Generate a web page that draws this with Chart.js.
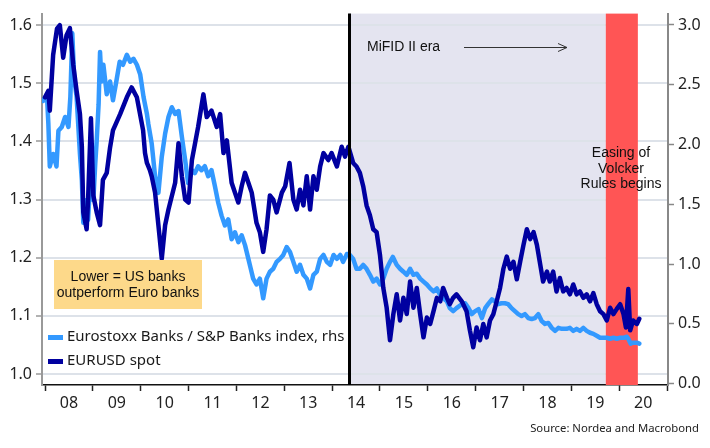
<!DOCTYPE html>
<html>
<head>
<meta charset="utf-8">
<script src="https://cdn.jsdelivr.net/npm/chart.js@4.4.1/dist/chart.umd.min.js"></script>
<style>
  html, body { margin: 0; padding: 0; background: #fff; }
  #wrap { width: 710px; height: 448px; }
</style>
</head>
<body>
<div id="wrap"><canvas id="chart" width="710" height="448"></canvas></div>
<script>
// EURUSD spot, lhs (x = decimal year)
const eurusdYears = [
  2008.00, 2008.07, 2008.10, 2008.17, 2008.25, 2008.31, 2008.38, 2008.45, 2008.52, 2008.59,
  2008.66, 2008.73, 2008.77, 2008.80, 2008.87, 2008.90, 2008.96, 2009.01, 2009.08, 2009.15,
  2009.21, 2009.29, 2009.36, 2009.42, 2009.57, 2009.71, 2009.81, 2009.92, 2010.05, 2010.09,
  2010.13, 2010.19, 2010.23, 2010.30, 2010.37, 2010.44, 2010.51, 2010.58, 2010.72, 2010.79,
  2010.86, 2010.93, 2011.00, 2011.07, 2011.20, 2011.31, 2011.38, 2011.48, 2011.59, 2011.66,
  2011.73, 2011.80, 2011.90, 2012.04, 2012.11, 2012.18, 2012.25, 2012.32, 2012.42, 2012.49,
  2012.56, 2012.63, 2012.70, 2012.77, 2012.84, 2012.95, 2013.02, 2013.11, 2013.19, 2013.26,
  2013.33, 2013.40, 2013.47, 2013.54, 2013.61, 2013.68, 2013.75, 2013.82, 2013.92, 2013.99,
  2014.10, 2014.20, 2014.27, 2014.34, 2014.44, 2014.51, 2014.58, 2014.65, 2014.72, 2014.79,
  2014.86, 2014.93, 2015.00, 2015.07, 2015.14, 2015.21, 2015.28, 2015.35, 2015.42, 2015.49,
  2015.56, 2015.63, 2015.70, 2015.77, 2015.84, 2015.91, 2015.98, 2016.05, 2016.12, 2016.19,
  2016.26, 2016.32, 2016.40, 2016.46, 2016.53, 2016.60, 2016.71, 2016.81, 2016.88, 2016.95,
  2017.02, 2017.09, 2017.16, 2017.23, 2017.30, 2017.37, 2017.44, 2017.51, 2017.58, 2017.65,
  2017.72, 2017.79, 2017.86, 2017.93, 2018.00, 2018.07, 2018.14, 2018.21, 2018.28, 2018.35,
  2018.41, 2018.49, 2018.55, 2018.62, 2018.69, 2018.76, 2018.83, 2018.90, 2018.97, 2019.04,
  2019.11, 2019.18, 2019.25, 2019.32, 2019.39, 2019.46, 2019.53, 2019.60, 2019.67, 2019.74,
  2019.81, 2019.88, 2019.95, 2020.02, 2020.09, 2020.14, 2020.19, 2020.23, 2020.29, 2020.37,
  2020.42
];
const eurusdSpot = [
  1.476, 1.487, 1.453, 1.549, 1.594, 1.600, 1.544, 1.583, 1.595, 1.532,
  1.487, 1.447, 1.391, 1.278, 1.249, 1.300, 1.440, 1.307, 1.278, 1.256,
  1.334, 1.346, 1.390, 1.419, 1.447, 1.476, 1.493, 1.476, 1.419, 1.380,
  1.363, 1.351, 1.340, 1.312, 1.256, 1.198, 1.256, 1.283, 1.329, 1.397,
  1.340, 1.300, 1.295, 1.368, 1.425, 1.481, 1.442, 1.453, 1.425, 1.447,
  1.380, 1.402, 1.329, 1.295, 1.323, 1.346, 1.329, 1.312, 1.260, 1.244,
  1.210, 1.249, 1.307, 1.300, 1.278, 1.312, 1.323, 1.363, 1.300, 1.283,
  1.317, 1.290, 1.340, 1.283, 1.340, 1.317, 1.357, 1.380, 1.368, 1.380,
  1.357, 1.391, 1.374, 1.391, 1.363, 1.357, 1.346, 1.323, 1.290, 1.273,
  1.249, 1.244, 1.205, 1.148, 1.114, 1.058, 1.103, 1.137, 1.092, 1.131,
  1.103, 1.159, 1.114, 1.148, 1.103, 1.063, 1.097, 1.086, 1.108, 1.131,
  1.125, 1.148, 1.131, 1.120, 1.131, 1.137, 1.125, 1.108, 1.075, 1.046,
  1.080, 1.058, 1.086, 1.063, 1.092, 1.103, 1.125, 1.148, 1.181, 1.202,
  1.181, 1.193, 1.163, 1.193, 1.222, 1.249, 1.232, 1.244, 1.222, 1.188,
  1.159, 1.176, 1.159, 1.176, 1.142, 1.165, 1.142, 1.148, 1.137, 1.154,
  1.137, 1.142, 1.131, 1.137, 1.125, 1.139, 1.120, 1.108, 1.103, 1.092,
  1.114, 1.103, 1.112, 1.120, 1.103, 1.080, 1.146, 1.075, 1.092, 1.086,
  1.095
];

// Eurostoxx Banks / S&P Banks index, rhs
const ratioYears = [
  2007.96, 2008.04, 2008.07, 2008.10, 2008.17, 2008.24, 2008.28, 2008.35, 2008.42, 2008.49,
  2008.53, 2008.57, 2008.61, 2008.66, 2008.73, 2008.77, 2008.80, 2008.87, 2008.90, 2008.98,
  2009.01, 2009.05, 2009.08, 2009.12, 2009.15, 2009.18, 2009.22, 2009.29, 2009.36, 2009.42,
  2009.49, 2009.56, 2009.63, 2009.71, 2009.78, 2009.85, 2009.92, 2009.99, 2010.06, 2010.13,
  2010.16, 2010.23, 2010.30, 2010.37, 2010.44, 2010.51, 2010.58, 2010.65, 2010.72, 2010.79,
  2010.86, 2010.93, 2010.99, 2011.07, 2011.13, 2011.20, 2011.27, 2011.34, 2011.41, 2011.48,
  2011.55, 2011.62, 2011.69, 2011.76, 2011.83, 2011.90, 2011.97, 2012.04, 2012.11, 2012.18,
  2012.25, 2012.30, 2012.35, 2012.42, 2012.49, 2012.56, 2012.63, 2012.70, 2012.77, 2012.84,
  2012.91, 2012.98, 2013.05, 2013.12, 2013.19, 2013.26, 2013.33, 2013.40, 2013.47, 2013.54,
  2013.61, 2013.68, 2013.75, 2013.82, 2013.89, 2013.96, 2014.03, 2014.10, 2014.17, 2014.23,
  2014.31, 2014.37, 2014.44, 2014.51, 2014.58, 2014.65, 2014.72, 2014.79, 2014.86, 2014.93,
  2015.00, 2015.07, 2015.14, 2015.21, 2015.27, 2015.35, 2015.42, 2015.49, 2015.56, 2015.63,
  2015.70, 2015.77, 2015.84, 2015.91, 2015.98, 2016.05, 2016.12, 2016.19, 2016.25, 2016.32,
  2016.40, 2016.46, 2016.53, 2016.60, 2016.71, 2016.78, 2016.85, 2016.92, 2016.99, 2017.06,
  2017.13, 2017.20, 2017.26, 2017.34, 2017.40, 2017.47, 2017.54, 2017.61, 2017.68, 2017.75,
  2017.82, 2017.89, 2017.96, 2018.03, 2018.10, 2018.17, 2018.24, 2018.31, 2018.38, 2018.45,
  2018.52, 2018.59, 2018.66, 2018.73, 2018.80, 2018.90, 2018.97, 2019.04, 2019.11, 2019.18,
  2019.25, 2019.32, 2019.39, 2019.46, 2019.53, 2019.60, 2019.67, 2019.74, 2019.81, 2019.88,
  2019.95, 2020.02, 2020.09, 2020.16, 2020.19, 2020.24, 2020.29, 2020.37, 2020.42
];
const ratioValues = [
  2.364, 2.420, 2.172, 1.816, 1.921, 1.816, 2.115, 2.147, 2.230, 2.147,
  2.400, 2.930, 2.550, 2.400, 1.921, 1.700, 1.345, 1.535, 1.370, 1.980,
  1.535, 1.840, 2.030, 2.337, 2.774, 2.527, 2.667, 2.420, 2.527, 2.370,
  2.527, 2.692, 2.667, 2.750, 2.692, 2.717, 2.667, 2.585, 2.395, 2.255,
  2.170, 2.007, 1.735, 1.595, 1.897, 2.090, 2.230, 2.312, 2.255, 2.280,
  2.065, 1.867, 1.678, 1.785, 1.760, 1.818, 1.785, 1.818, 1.735, 1.785,
  1.653, 1.513, 1.405, 1.323, 1.373, 1.208, 1.266, 1.183, 1.241, 1.158,
  1.043, 0.960, 0.878, 0.829, 0.878, 0.713, 0.878, 0.936, 0.960, 1.018,
  1.043, 1.076, 1.142, 1.100, 1.018, 0.936, 0.993, 0.910, 0.878, 0.796,
  0.910, 0.936, 1.043, 1.076, 1.018, 0.993, 1.076, 1.043, 1.076, 1.018,
  1.084, 1.076, 1.043, 0.960, 0.960, 0.993, 0.960, 0.910, 0.853, 0.878,
  0.829, 0.878, 0.960, 1.018, 1.059, 0.993, 0.960, 0.936, 0.910, 0.960,
  0.910, 0.919, 0.878, 0.853, 0.829, 0.796, 0.771, 0.796, 0.746, 0.713,
  0.688, 0.631, 0.606, 0.631, 0.664, 0.672, 0.631, 0.581, 0.606, 0.622,
  0.548, 0.631, 0.664, 0.705, 0.688, 0.664, 0.672, 0.672, 0.664, 0.631,
  0.606, 0.581, 0.565, 0.581, 0.548, 0.540, 0.548, 0.581, 0.523, 0.499,
  0.507, 0.466, 0.441, 0.466, 0.458, 0.458, 0.466, 0.441, 0.458, 0.441,
  0.466, 0.441, 0.425, 0.416, 0.400, 0.383, 0.383, 0.383, 0.375, 0.383,
  0.375, 0.383, 0.383, 0.392, 0.375, 0.334, 0.342, 0.342, 0.334
];

const yearTicks = [2008, 2009, 2010, 2011, 2012, 2013, 2014, 2015, 2016, 2017, 2018, 2019, 2020, 2021];
const yearLabels = ['08', '09', '10', '11', '12', '13', '14', '15', '16', '17', '18', '19', '20', ''];
const leftTicks = [1.0, 1.1, 1.2, 1.3, 1.4, 1.5, 1.6];
const rightTicks = [0.0, 0.5, 1.0, 1.5, 2.0, 2.5, 3.0];

// event markers (decimal years)
const mifidStart = 2014.35;
const volckerStart = 2019.72;
const volckerEnd = 2020.39;

const NAVY = '#0000A0';
const LIGHT = '#3399FF';
const TICK_FONT = { family: '"Noto Sans", "Open Sans", sans-serif', size: 16 };

const overlays = {
    id: 'overlays',
    beforeDraw(chart) {
        const { ctx, chartArea: a, scales: { x } } = chart;
        const x0 = x.getPixelForValue(mifidStart);
        const x1 = x.getPixelForValue(volckerStart);
        ctx.save();
        ctx.fillStyle = '#E4E4F0';
        ctx.fillRect(x0, a.top, x1 - x0, a.bottom - a.top);
        ctx.restore();
    },
    beforeDatasetsDraw(chart) {
        const { ctx, chartArea: a, scales: { x } } = chart;
        const x1 = x.getPixelForValue(volckerStart);
        const x2 = x.getPixelForValue(volckerEnd);
        ctx.save();
        ctx.fillStyle = '#FF5555';
        ctx.fillRect(x1, a.top, x2 - x1, a.bottom - a.top);
        ctx.restore();
    },
    afterDatasetsDraw(chart) {
        const { ctx, chartArea: a, scales: { x } } = chart;
        ctx.save();

        // MiFID II start line
        const xm = Math.round(x.getPixelForValue(mifidStart)) + 0.5;
        ctx.strokeStyle = '#000';
        ctx.lineWidth = 3;
        ctx.beginPath();
        ctx.moveTo(xm, a.top);
        ctx.lineTo(xm, a.bottom);
        ctx.stroke();

        // MiFID label + arrow
        ctx.fillStyle = '#111';
        ctx.font = '14px "Liberation Sans", Arial, sans-serif';
        ctx.textBaseline = 'middle';
        ctx.textAlign = 'left';
        ctx.fillText('MiFID II era', 367, 47);
        ctx.strokeStyle = '#333';
        ctx.lineWidth = 1;
        ctx.beginPath();
        ctx.moveTo(464, 47.5);
        ctx.lineTo(567, 47.5);
        ctx.moveTo(558, 43.5);
        ctx.lineTo(567, 47.5);
        ctx.lineTo(558, 51.5);
        ctx.stroke();

        // Volcker label
        ctx.textAlign = 'center';
        ctx.fillText('Easing of', 621, 153);
        ctx.fillText('Volcker', 621, 169);
        ctx.fillText('Rules begins', 621, 184);

        // yellow note box
        ctx.fillStyle = '#FDD98A';
        ctx.fillRect(54, 260, 148, 49);
        ctx.fillStyle = '#111';
        ctx.fillText('Lower = US banks', 128, 277);
        ctx.fillText('outperform Euro banks', 128, 293);

        // legend
        const items = [
            { label: chart.data.datasets[1].label, color: LIGHT, y: 337 },
            { label: chart.data.datasets[0].label, color: NAVY, y: 361 }
        ];
        ctx.textAlign = 'left';
        ctx.font = '15px "Noto Sans", "Open Sans", sans-serif';
        items.forEach(it => {
            ctx.fillStyle = it.color;
            ctx.fillRect(48, it.y - 2, 15, 5);
            ctx.fillStyle = '#1a1a1a';
            ctx.fillText(it.label, 67, it.y);
        });

        // source
        ctx.textAlign = 'right';
        ctx.font = '11.3px "Noto Sans", "Open Sans", sans-serif';
        ctx.fillStyle = '#222';
        ctx.fillText('Source: Nordea and Macrobond', 699, 429);
        ctx.restore();
    }
};

const ctx = document.getElementById('chart').getContext('2d');

new Chart(ctx, {
    type: 'line',
    data: {
        datasets: [
            {
                label: 'EURUSD spot',
                data: eurusdYears.map((t, i) => ({ x: t, y: eurusdSpot[i] })),
                yAxisID: 'y',
                borderColor: NAVY,
                borderWidth: 4.5,
                borderJoinStyle: 'round',
                borderCapStyle: 'round',
                pointRadius: 0,
                tension: 0,
                fill: false
            },
            {
                label: 'Eurostoxx Banks / S&P Banks index, rhs',
                data: ratioYears.map((t, i) => ({ x: t, y: ratioValues[i] })),
                yAxisID: 'y2',
                borderColor: LIGHT,
                borderWidth: 4.5,
                borderJoinStyle: 'round',
                borderCapStyle: 'round',
                pointRadius: 0,
                tension: 0,
                fill: false
            }
        ]
    },
    options: {
        responsive: false,
        animation: false,
        layout: { padding: { top: 8, left: 0, right: 0, bottom: 0 } },
        plugins: {
            legend: { display: false },
            tooltip: { enabled: false }
        },
        scales: {
            x: {
                type: 'linear',
                min: 2007.937,
                max: 2021.02,
                afterBuildTicks: s => { s.ticks = yearTicks.map(v => ({ value: v })); },
                afterFit: s => { s.height = 63; },
                grid: { drawOnChartArea: false, drawTicks: true, tickLength: 6, tickColor: '#222', tickWidth: 1.5 },
                border: { color: '#111', width: 1.5 },
                ticks: {
                    autoSkip: false,
                    maxRotation: 0,
                    labelOffset: 24,
                    padding: 3,
                    color: '#222',
                    font: TICK_FONT,
                    callback: v => yearLabels[yearTicks.indexOf(v)]
                }
            },
            y: {
                position: 'left',
                min: 0.981,
                max: 1.620,
                afterBuildTicks: s => { s.ticks = leftTicks.map(v => ({ value: v })); },
                afterFit: s => { s.width = 42; },
                grid: { color: '#DDE2E9', lineWidth: 2, drawTicks: true, tickLength: 6, tickColor: '#999', tickWidth: 1.5 },
                border: { color: '#999', width: 2 },
                ticks: {
                    padding: 4,
                    color: '#222',
                    font: TICK_FONT,
                    callback: v => v.toFixed(1)
                }
            },
            y2: {
                position: 'right',
                min: -0.012,
                max: 3.095,
                afterBuildTicks: s => { s.ticks = rightTicks.map(v => ({ value: v })); },
                afterFit: s => { s.width = 42; },
                grid: { drawOnChartArea: false, drawTicks: true, tickLength: 6, tickColor: '#888', tickWidth: 1.5 },
                border: { color: '#888', width: 2 },
                ticks: {
                    padding: 4,
                    color: '#222',
                    font: TICK_FONT,
                    callback: v => v.toFixed(1)
                }
            }
        }
    },
    plugins: [overlays]
});
</script>
</body>
</html>
